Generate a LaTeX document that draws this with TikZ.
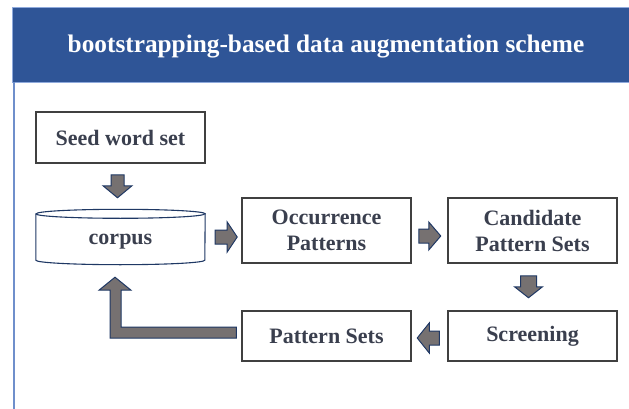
\documentclass[tikz,border=0pt]{standalone}
\usepackage{fontspec}
\setmainfont{Liberation Serif}[BoldFont={Liberation Serif Bold}]
\newfontfamily\labelfont{Liberation Serif Bold}
\usetikzlibrary{calc}
\definecolor{headblue}{HTML}{2F5597}
\definecolor{headedge}{HTML}{8FAADC}
\definecolor{sideline}{HTML}{6F8FCB}
\definecolor{boxedge}{HTML}{404040}
\definecolor{labeltext}{HTML}{3A3F4E}
\definecolor{arrowfill}{HTML}{767171}
\definecolor{arrowedge}{HTML}{1F3864}
\begin{document}
\begin{tikzpicture}[x=1pt,y=-1pt,
  labelstyle/.style={text=labeltext, font=\labelfont\fontsize{22}{26}\selectfont},
  stagebox/.style={labelstyle, draw=boxedge, line width=1.5pt, fill=white, minimum width=169pt,
    align=center, inner sep=0pt},
  blockarrow/.style={fill=arrowfill, draw=arrowedge, line width=1pt, line join=miter}]
\useasboundingbox (0,0) rectangle (629,409);

% header band and left rule
\fill[white] (0,0) rectangle (629,409);
\draw[headedge, line width=0.8pt, fill=headblue] (12,7) rectangle (632,82);
\node (title) at (326,47) [text=white, font=\labelfont\fontsize{25.3}{30}\selectfont] {bootstrapping-based data augmentation scheme};
\draw[sideline, line width=1.6pt] (14,82) -- (14,409);

% stages
\node[stagebox, minimum height=51pt] (seed) at (120.5,137.5) {Seed word set};
\node[minimum width=169pt, minimum height=55pt, inner sep=0pt] (corpus) at (120.5,237) {};
\node[stagebox, minimum height=65pt] (occ) at (326.5,230.5) {Occurrence\\Patterns};
\node[stagebox, minimum height=65pt] (cand) at (532.5,230.5) {Candidate\\Pattern Sets};
\node[stagebox, minimum height=50pt] (screen) at (532.5,336) {Screening};
\node[stagebox, minimum height=50pt] (pset) at (326.5,336) {Pattern Sets};

% corpus drawn as a cylinder
\draw[arrowedge, line width=1.1pt, fill=white]
  ($(corpus.north west)+(0,4.5)$) -- ($(corpus.south west)+(0,-4.5)$)
  arc[start angle=180, end angle=360, x radius=84.5pt, y radius=4.5pt]
  -- ($(corpus.north east)+(0,4.5)$)
  arc[start angle=0, end angle=180, x radius=84.5pt, y radius=4.5pt] -- cycle;
\draw[arrowedge, line width=1.1pt] ($(corpus.north west)+(0,4.5)$)
  arc[start angle=180, end angle=360, x radius=84.5pt, y radius=4.5pt];
\node[labelstyle] (corpuslabel) at ($(corpus.center)+(0,5)$) {corpus};

% block arrows between stages
% seed -> corpus (down)
\coordinate (d1) at ($(seed.south)+(-3,11)$);
\draw[blockarrow] ($(d1)+(-6.5,0)$) -- ($(d1)+(6.5,0)$) -- ($(d1)+(6.5,11)$) -- ($(d1)+(14.5,11)$)
  -- ($(d1)+(0,23)$) -- ($(d1)+(-14.5,11)$) -- ($(d1)+(-6.5,11)$) -- cycle;
% corpus -> occurrence (right)
\coordinate (r1) at ($(corpus.east)+(10,0)$);
\draw[blockarrow] ($(r1)+(0,-7)$) -- ($(r1)+(12,-7)$) -- ($(r1)+(12,-15)$) -- ($(r1)+(22,0)$)
  -- ($(r1)+(12,15)$) -- ($(r1)+(12,7)$) -- ($(r1)+(0,7)$) -- cycle;
% occurrence -> candidate (right)
\coordinate (r2) at ($(occ.east)+(7,5.5)$);
\draw[blockarrow] ($(r2)+(0,-7)$) -- ($(r2)+(10,-7)$) -- ($(r2)+(10,-14)$) -- ($(r2)+(22,0)$)
  -- ($(r2)+(10,14)$) -- ($(r2)+(10,7)$) -- ($(r2)+(0,7)$) -- cycle;
% candidate -> screening (down)
\coordinate (d2) at ($(cand.south)+(-4,12)$);
\draw[blockarrow] ($(d2)+(-8,0)$) -- ($(d2)+(8,0)$) -- ($(d2)+(8,11)$) -- ($(d2)+(14,11)$)
  -- ($(d2)+(0,22)$) -- ($(d2)+(-14,11)$) -- ($(d2)+(-8,11)$) -- cycle;
% screening -> pattern sets (left)
\coordinate (l1) at ($(screen.west)+(-8,2)$);
\draw[blockarrow] ($(l1)+(0,-7)$) -- ($(l1)+(-10,-7)$) -- ($(l1)+(-10,-15)$) -- ($(l1)+(-22,0)$)
  -- ($(l1)+(-10,15)$) -- ($(l1)+(-10,7)$) -- ($(l1)+(0,7)$) -- cycle;
% pattern sets -> corpus (elbow back up)
\coordinate (ea) at ($(pset.west)+(-5,-9)$);
\coordinate (eb) at ($(pset.west)+(-5,2)$);
\coordinate (tip) at ($(corpus.south)+(-5.5,12.5)$);
\coordinate (hr) at ($(tip)+(16,13)$);
\coordinate (hl) at ($(tip)+(-16,13)$);
\coordinate (sr) at ($(tip)+(6,13)$);
\coordinate (sl) at ($(tip)+(-5,13)$);
\draw[blockarrow] (ea) -- (sr |- ea) -- (sr) -- (hr) -- (tip) -- (hl) -- (sl)
  -- (sl |- eb) -- (eb) -- cycle;
\end{tikzpicture}
\end{document}
